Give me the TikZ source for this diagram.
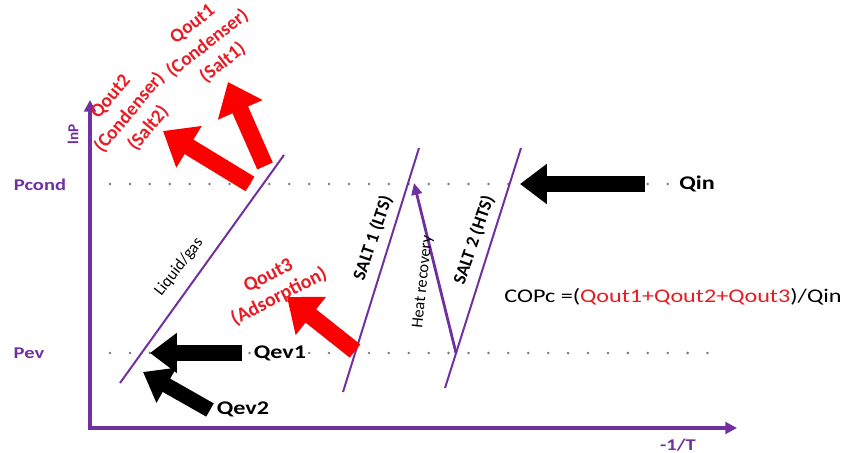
\documentclass[tikz,border=0pt]{standalone}
\usepackage{fontspec}
\setmainfont{Carlito}
\newfontfamily\widefont[FakeStretch=1.25]{Carlito}
\usetikzlibrary{arrows.meta}
\definecolor{axispurple}{RGB}{112,48,160}
\definecolor{qred}{RGB}{250,0,0}
\definecolor{textred}{RGB}{232,28,36}
\definecolor{dotgray}{RGB}{120,120,120}

\begin{document}
\begin{tikzpicture}[x=0.03cm, y=-0.03cm,
  axis/.style={draw=axispurple, line width=2.6pt, line join=miter, {Triangle[length=10pt,width=10pt]}-{Triangle[length=10pt,width=10pt]}},
  curve/.style={draw=axispurple, line width=1.7pt},
  level/.style={draw=dotgray, line width=2.4pt, line cap=round, dash pattern=on 0pt off 17pt},
  blackarrow/.style={draw=black, line width=13pt, -{Triangle[length=23pt,width=33pt]}},
  redarrow/.style={draw=qred, line width=14.5pt, -{Triangle[length=26pt,width=40pt]}},
  axlabel/.style={font=\widefont\bfseries\fontsize{14}{16}\selectfont, text=axispurple},
  qlabel/.style={font=\widefont\bfseries\fontsize{16.5}{18}\selectfont, fill=white, inner sep=1pt},
  redlabel/.style={font=\bfseries\fontsize{16.5}{21}\selectfont, text=textred, align=center},
  linelabel/.style={font=\fontsize{14}{16}\selectfont}]
\useasboundingbox (0,0) rectangle (861,453);

% dotted pressure levels
\draw[level] (110,184) -- (672,184);
\draw[level] (110,353) -- (720,353);

% axes
\coordinate (ytip) at (90,100);
\coordinate (origin) at (90,428);
\coordinate (xtip) at (737,428);
\draw[axis] (ytip) -- (origin) -- (xtip);

% isosteres
\coordinate (lg0) at (120,383);
\coordinate (lg1) at (284,155);
\coordinate (s1a) at (343,392);
\coordinate (s1b) at (419,148);
\coordinate (s2a) at (445,388);
\coordinate (s2b) at (521,148);
\draw[curve] (lg0) -- (lg1);
\draw[curve] (s1a) -- (s1b);
\draw[curve] (s2a) -- (s2b);

% heat recovery
\coordinate (hr0) at (456,353);
\coordinate (hr1) at (414,183);
\draw[draw=axispurple, line width=2.4pt, -{Triangle[length=10pt,width=9pt]}] (hr0) -- (hr1);

% heat flows
\coordinate (qin0) at (645,184);
\coordinate (qin1) at (520,184);
\coordinate (qev10) at (242,353);
\coordinate (qev11) at (150,353);
\coordinate (qev20) at (210,410);
\coordinate (qev21) at (143,372);
\draw[blackarrow] (qin0) -- (qin1);
\draw[blackarrow] (qev10) -- (qev11);
\draw[blackarrow] (qev20) -- (qev21);

\coordinate (qo30) at (355,351);
\coordinate (qo31) at (287,297);
\coordinate (qo20) at (250,184);
\coordinate (qo21) at (163,131);
\coordinate (qo10) at (265,166);
\coordinate (qo11) at (228,82);
\draw[redarrow] (qo30) -- (qo31);
\draw[redarrow] (qo20) -- (qo21);
\draw[redarrow] (qo10) -- (qo11);

% labels
\node[axlabel] (pcond) at (40,185) {Pcond};
\node[axlabel] (pev) at (29,353) {Pev};
\node[axlabel, font=\bfseries\fontsize{13}{15}\selectfont, rotate=90] (lnp) at (73,134) {lnP};
\node[axlabel] (invt) at (678,445) {-1/T};
\node[qlabel] (qin) at (697,184) {Qin};
\node[qlabel] (qev1) at (280,353) {Qev1};
\node[qlabel] (qev2) at (243,409) {Qev2};
\node[redlabel, rotate=38] (qout1) at (208,44) {Qout1\\(Condenser)\\(Salt1)};
\node[redlabel, rotate=50] (qout2) at (130,113) {Qout2\\(Condenser)\\(Salt2)};
\node[redlabel, font=\bfseries\fontsize{17}{20}\selectfont, rotate=27] (qout3) at (274,287) {Qout3\\(Adsorption)};
\node[linelabel, rotate=52] (liquid) at (179,267) {Liquid/gas};
\node[linelabel, font=\bfseries\fontsize{15.5}{17}\selectfont, rotate=71] (salt1) at (373,238) {SALT 1 (LTS)};
\node[linelabel, font=\bfseries\fontsize{15.5}{17}\selectfont, rotate=71] (salt2) at (474,240) {SALT 2 (HTS)};
\node[linelabel, rotate=84] (heat) at (423,282) {Heat recovery};
\node[font=\widefont\fontsize{16.5}{18}\selectfont, anchor=base] (copc) at (673,302) {COPc =(\textcolor{textred}{Qout1+Qout2+Qout3})/Qin};

\end{tikzpicture}
\end{document}
